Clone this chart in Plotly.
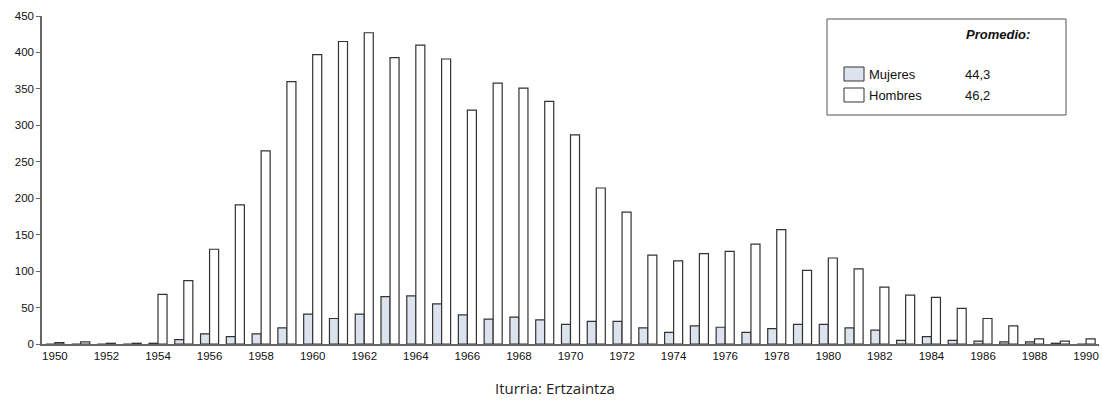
import plotly.graph_objects as go

years = [str(y) for y in range(1950, 1991)]
mujeres = [0, 0, 0, 0, 1, 6, 14, 10, 14, 22,
           41, 35, 41, 65, 66, 55, 40, 34, 37, 33,
           27, 31, 31, 22, 16, 25, 23, 16, 21, 27,
           27, 22, 19, 5, 10, 5, 4, 3, 3, 1,
           0]
hombres = [2, 3, 1, 1, 68, 87, 130, 191, 265, 360,
           397, 415, 427, 393, 410, 391, 321, 358, 351, 333,
           287, 214, 181, 122, 114, 124, 127, 137, 157, 101,
           118, 103, 78, 67, 64, 49, 35, 25, 7, 4,
           7]
tick_years = [str(y) for y in range(1950, 1991, 2)]
legend_names = ["Mujeres", "Hombres"]
promedio = ["44,3", "46,2"]

W, H = 1102, 408
L, R, T, B = 42, 3, 16, 64
col_m = "#dde3ee"
col_h = "#ffffff"
edge = "#333333"


def px_x(x):
    return (x - L) / (W - L - R)


def px_y(y):
    return (H - B - y) / (H - T - B)


fig = go.Figure()
fig.add_trace(go.Bar(x=years, y=mujeres, name="Mujeres", marker_color=col_m,
                     marker_line=dict(color=edge, width=1.2)))
fig.add_trace(go.Bar(x=years, y=hombres, name="Hombres", marker_color=col_h,
                     marker_line=dict(color=edge, width=1.2)))

shapes = []
annotations = []
# legend box
shapes.append(dict(type="rect", xref="paper", yref="paper",
                   x0=px_x(827), x1=px_x(1066), y0=px_y(115), y1=px_y(19),
                   line=dict(color="#555555", width=1), fillcolor="white", layer="above"))
annotations.append(dict(text="<b><i>Promedio:</i></b>", xref="paper", yref="paper",
                        x=px_x(964), y=px_y(34), xanchor="left", yanchor="middle",
                        showarrow=False, font=dict(size=13, color="#111111")))
for i, (name, val, col) in enumerate(zip(legend_names, promedio, [col_m, col_h])):
    yc = 74 + i * 21
    shapes.append(dict(type="rect", xref="paper", yref="paper",
                       x0=px_x(844), x1=px_x(864), y0=px_y(yc + 7), y1=px_y(yc - 7),
                       line=dict(color=edge, width=1), fillcolor=col, layer="above"))
    annotations.append(dict(text=name, xref="paper", yref="paper",
                            x=px_x(867), y=px_y(yc), xanchor="left", yanchor="middle",
                            showarrow=False, font=dict(size=13, color="#111111")))
    annotations.append(dict(text=val, xref="paper", yref="paper",
                            x=px_x(963), y=px_y(yc), xanchor="left", yanchor="middle",
                            showarrow=False, font=dict(size=13, color="#111111")))

annotations.append(dict(text="Iturria: Ertzaintza", xref="paper", yref="paper",
                        x=px_x(555), y=px_y(388), xanchor="center", yanchor="middle",
                        showarrow=False, font=dict(family="Open Sans", size=15, color="#222222")))

fig.update_layout(
    width=W, height=H,
    margin=dict(l=L, r=R, t=T, b=B),
    paper_bgcolor="white", plot_bgcolor="white",
    barmode="group", bargap=0.3, bargroupgap=0,
    showlegend=False,
    font=dict(family="Liberation Sans, Arial", size=11.5, color="#111111"),
    shapes=shapes, annotations=annotations,
)
fig.update_xaxes(type="category", tickvals=tick_years, ticktext=tick_years,
                 showline=True, linecolor="#666666", linewidth=1.5,
                 ticks="", showgrid=False, tickangle=0)
fig.update_yaxes(range=[0, 450], dtick=50, showline=True, linecolor="#666666", linewidth=1.5,
                 ticks="outside", ticklen=4, tickcolor="#666666", showgrid=False,
                 zeroline=False)

# page without default body margin so the figure sits at the window corner
fig.write_html("out.html", config={"displayModeBar": False},
               post_script="document.body.style.margin='0';")
